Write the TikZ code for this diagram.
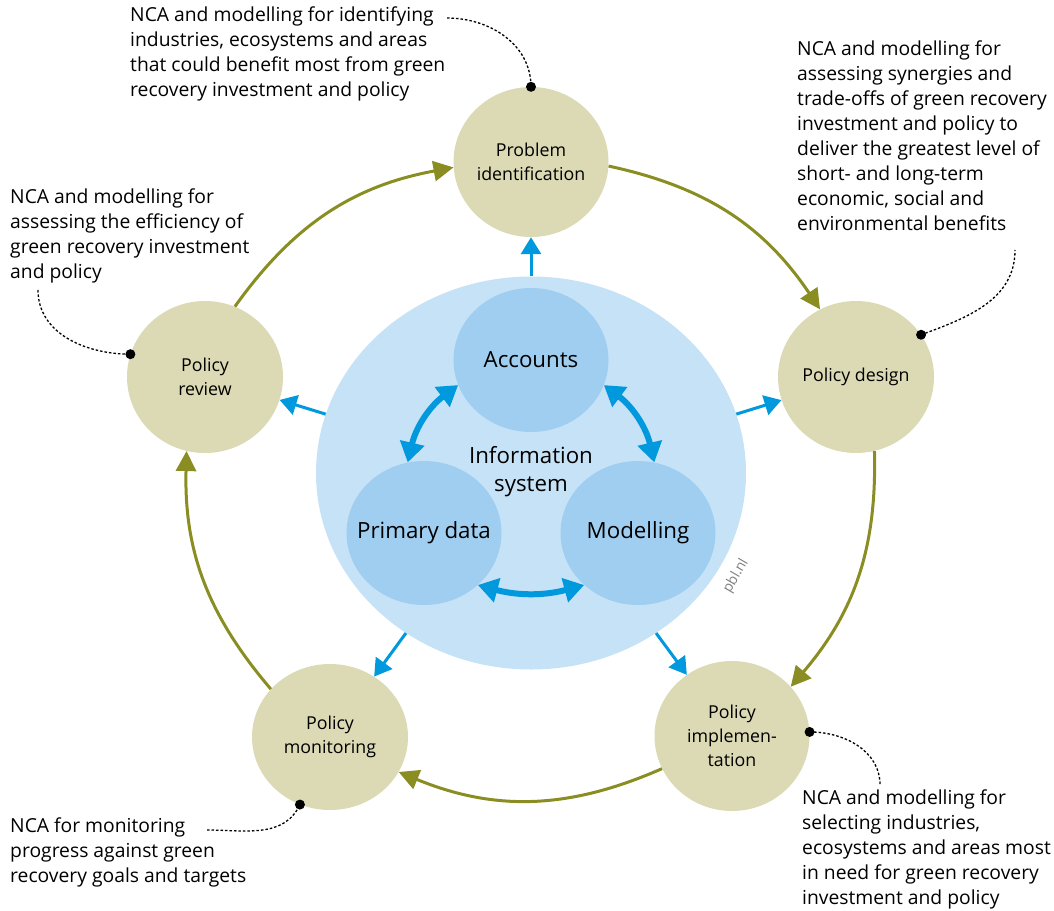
\documentclass[tikz,border=0pt]{standalone}
\usepackage{fontspec}
\setmainfont{Open Sans}
\usetikzlibrary{shapes.geometric,arrows.meta}
\definecolor{beige}{HTML}{DCDAB4}
\definecolor{olivec}{HTML}{8A8D22}
\definecolor{bigblue}{HTML}{C6E2F7}
\definecolor{innerblue}{HTML}{9FCEF0}
\definecolor{arrowblue}{HTML}{0099DD}
\tikzset{
  outer/.style={ellipse, fill=beige, draw=none, inner sep=0pt, minimum width=155, minimum height=150, align=center, font=\fontsize{17.8}{24}\selectfont},
  inner/.style={ellipse, fill=innerblue, draw=none, inner sep=0pt, minimum width=155, minimum height=144},
  innertext/.style={inner sep=0pt, align=center, font=\fontsize{22.3}{28}\selectfont},
  note/.style={anchor=north west, inner sep=0pt, align=left, font=\fontsize{19.3}{25}\selectfont},
  cycarrow/.style={draw=olivec, line width=3pt, -{Triangle[width=20pt,length=20pt]}},
  outarrow/.style={draw=arrowblue, line width=3pt, -{Triangle[width=20pt,length=17pt]}},
  dblarrow/.style={draw=arrowblue, line width=6pt, {Triangle[width=24pt,length=20pt]}-{Triangle[width=24pt,length=20pt]}},
  dotnode/.style={circle, fill=black, inner sep=0pt, minimum size=10},
  callout/.style={draw=black, line width=1.3pt, dash pattern=on 2.5pt off 2pt},
}
\begin{document}
\begin{tikzpicture}[x=1pt,y=-1pt]
\useasboundingbox (0,0) rectangle (1054,910);
% information system
\node[ellipse, fill=bigblue, inner sep=0pt, minimum width=430, minimum height=393] (big) at (531,473) {};
\node[inner] (acc) at (531,360) {};
\node[inner] (prim) at (424,533) {};
\node[inner] (mod) at (638,533) {};
\node[innertext] (acct) at (acc) {Accounts};
\node[innertext] (primt) at (prim) {Primary data};
\node[innertext] (modt) at (mod) {Modelling};
\node[innertext] (info) at (531,472) {Information\\system};
\node[text=gray, rotate=60, inner sep=0pt, font=\fontsize{14}{14}\selectfont] (pbl) at (736,576) {pbl.nl};
% outer cycle
\node[outer] (pi) at (531,162) {Problem\\identification};
\node[outer, minimum width=156, minimum height=152] (pd) at (856,377) {Policy design};
\node[outer] (pimpl) at (732,736) {Policy\\implemen-\\tation};
\node[outer, minimum width=156, minimum height=146] (pm) at (330,737) {Policy\\monitoring};
\node[outer, minimum width=156, minimum height=152] (pr) at (205,377) {Policy\\review};
% cycle arrows
\draw[cycarrow] (pi.-3) to[bend left=22] (pd.118);
\draw[cycarrow] (pd.-76) to[bend left=21] (pimpl.40);
\draw[cycarrow] (pimpl.205) to[bend left=23] (pm.-27);
\draw[cycarrow] (pm.141) to[bend left=21] (pr.256);
\draw[cycarrow] (pr.67) to[bend left=22] (pi.184);
% outward arrows
\draw[outarrow] (big.90) -- (pi);
\draw[outarrow] (big.16) -- (pd);
\draw[outarrow] (big.164) -- (pr);
\draw[outarrow] (big.232) -- (pm);
\draw[outarrow] (big.308) -- (pimpl);
% inner double arrows
\draw[dblarrow] (acc.199) to[bend right=20] (prim.103);
\draw[dblarrow] (acc.-19) to[bend left=20] (mod.77);
\draw[dblarrow] (prim.-44) to[bend right=15] (mod.224);
% notes
\node[note] (n1) at (130,7) {NCA and modelling for identifying\\industries, ecosystems and areas\\that could benefit most from green\\recovery investment and policy};
\node[note] (n2) at (797,41) {NCA and modelling for\\assessing synergies and\\trade-offs of green recovery\\investment and policy to\\deliver the greatest level of\\short- and long-term\\economic, social and\\environmental benefits};
\node[note] (n3) at (10,189) {NCA and modelling for\\assessing the efficiency of\\green recovery investment\\and policy};
\node[note] (n4) at (10,818) {NCA for monitoring\\progress against green\\recovery goals and targets};
\node[note] (n5) at (802,790) {NCA and modelling for\\selecting industries,\\ecosystems and areas most\\in need for green recovery\\investment and policy};
% callouts
\node[dotnode] (d1) at (pi.north) {};
\node[dotnode] (d2) at (pd.33) {};
\node[dotnode] (d3) at (pr.163) {};
\node[dotnode] (d4) at (pm.246) {};
\node[dotnode] (d5) at (pimpl.3) {};
\coordinate (c1) at (447,18);
\coordinate (c2) at (1015,250);
\coordinate (c3) at (38,290);
\coordinate (c4) at (207,830);
\coordinate (c5) at (880,785);
\draw[callout] (c1) to[out=0,in=90] (d1.center);
\draw[callout] (d2.center) to[out=20,in=-90] (c2);
\draw[callout] (c3) to[out=-90,in=180] (d3.center);
\draw[callout] (c4) to[out=0,in=-115] (d4.center);
\draw[callout] (d5.center) to[out=0,in=90] (c5);
\end{tikzpicture}
\end{document}
